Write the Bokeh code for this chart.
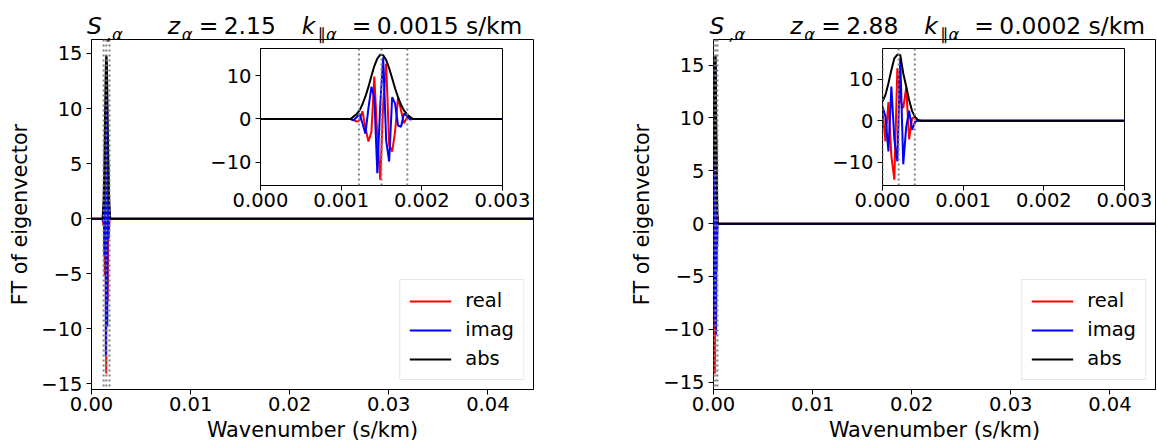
from bokeh.plotting import figure
from bokeh.models import (Span, Legend, LegendItem, Div, FixedTicker,
                          Range1d, CustomJSTickFormatter)
from bokeh.embed import file_html
from bokeh.resources import INLINE

# ---------------- data ----------------
# Left panel: S_,alpha  z=2.15  k_par=0.0015 s/km
k_left = [0.0, 0.001117, 0.001154, 0.001191, 0.001228, 0.001264, 0.001301, 0.001338,
          0.001375, 0.001411, 0.001448, 0.001485, 0.001521, 0.001558, 0.001595,
          0.001632, 0.001668, 0.001705, 0.001742, 0.001778, 0.001815, 0.001852,
          0.001889, 0.0446]
real_left = [0, 0, -0.2, -0.6, -0.3, 1.8, -2.0, -5.2, -3.0, 9.8, -4.0, -14.06, 3.5,
             12.8, -6.0, -7.5, -3.0, 5.0, 2.0, -1.0, 0.3, 0.2, 0, 0]
imag_left = [0, 0, -0.3, 0.4, 1.2, -1.0, -3.4, 2.5, 7.4, 5.0, -12.5, 3.5, 14.2,
             -5.0, -9.8, 5.0, 3.6, -1.5, -1.8, 1.2, 0.8, -0.1, 0, 0]
abs_left = [0, 0, 0.6, 1.1, 2.0, 3.4, 5.2, 7.4, 9.9, 12.2, 13.9, 14.83, 14.7, 13.6,
            11.7, 9.4, 7.1, 5.0, 3.3, 2.0, 1.1, 0.5, 0, 0]
vlines_left = [0.00122, 0.0015, 0.00182]
z_left = "2.15"
kpar_left = "0.0015"

# Right panel: S_,alpha  z=2.88  k_par=0.0002 s/km
k_right = [0.0, 0.0000367, 0.0000734, 0.000110, 0.000147, 0.000184, 0.000220,
           0.000257, 0.000294, 0.000330, 0.000367, 0.000404, 0.000441, 0.000478, 0.0446]
real_right = [2.5, -5.0, 4.5, -8.5, -14.18, 12.6, 5.0, 3.0, 8.0, -4.5, 0.6, 0.8, 0.1, 0, 0]
imag_right = [3.4, 1.0, -7.4, 8.2, -4.5, -9.8, 15.0, -10.5, -1.5, 2.4, -2.2, -0.3, 0.05, 0, 0]
abs_right = [4.6, 6.2, 9.0, 12.2, 15.0, 15.9, 15.8, 11.4, 8.2, 5.0, 2.3, 0.9, 0.1, 0, 0]
vlines_right = [0.0, 0.0002, 0.0004]
z_right = "2.88"
kpar_right = "0.0002"

main_xticks = [0.0, 0.01, 0.02, 0.03, 0.04]
main_yticks = [-15, -10, -5, 0, 5, 10, 15]
inset_xticks = [0.0, 0.001, 0.002, 0.003]
inset_yticks = [-10, 0, 10]

FONT = "DejaVu Sans"
TICK_FS = "19.5px"
LABEL_FS = "20.8px"

yfmt_js = "return tick < 0 ? '\\u2212' + Math.abs(tick) : String(tick);"


def place(left, top, z):
    return {"position": "absolute", "left": "%dpx" % left, "top": "%dpx" % top,
            "z-index": str(z)}


def style_axes(p, xdec):
    for ax in (p.xaxis[0], p.yaxis[0]):
        ax.major_tick_out = 5
        ax.major_tick_in = 0
        ax.minor_tick_out = 0
        ax.minor_tick_in = 0
        ax.axis_line_color = "black"
        ax.major_tick_line_color = "black"
        ax.major_label_text_font = FONT
        ax.major_label_text_font_size = TICK_FS
        ax.major_label_text_color = "black"
    p.xaxis[0].major_label_standoff = 2
    p.yaxis[0].major_label_standoff = 4
    p.xaxis[0].formatter = CustomJSTickFormatter(code="return tick.toFixed(%d);" % xdec)
    p.yaxis[0].formatter = CustomJSTickFormatter(code=yfmt_js)
    p.xgrid.visible = False
    p.ygrid.visible = False
    p.outline_line_color = "black"
    p.outline_line_width = 1


def make_main(k, re, im, ab, vl, y0, y1, left, width, right_border):
    p = figure(width=width, height=445,
               x_range=Range1d(0.0, 0.0446), y_range=Range1d(y0, y1),
               output_backend="svg", toolbar_location=None,
               min_border_left=91, min_border_right=right_border,
               min_border_top=39, min_border_bottom=56,
               background_fill_color="white", border_fill_color="white",
               styles=place(left, 0, 1))
    p.xaxis[0].ticker = FixedTicker(ticks=main_xticks)
    p.yaxis[0].ticker = FixedTicker(ticks=main_yticks)
    style_axes(p, 2)
    for ax in (p.xaxis[0], p.yaxis[0]):
        ax.axis_label_text_font = FONT
        ax.axis_label_text_font_size = LABEL_FS
        ax.axis_label_text_font_style = "normal"
        ax.axis_label_text_color = "black"
    p.yaxis[0].axis_label = "FT of eigenvector"
    p.yaxis[0].axis_label_standoff = 6
    p.xaxis[0].axis_label = "Wavenumber (s/km)"
    p.xaxis[0].axis_label_standoff = 4

    r1 = p.line(k, re, line_color="red", line_width=2)
    r2 = p.line(k, im, line_color="blue", line_width=2)
    r3 = p.line(k, ab, line_color="black", line_width=2)
    for v in vl:
        p.add_layout(Span(location=v, dimension="height", line_color="gray",
                          line_dash="2 3", line_width=2))

    legend = Legend(items=[LegendItem(label="real", renderers=[r1]),
                           LegendItem(label="imag", renderers=[r2]),
                           LegendItem(label="abs", renderers=[r3])],
                    location="bottom_right")
    legend.label_text_font = FONT
    legend.label_text_font_size = TICK_FS
    legend.label_text_color = "black"
    legend.glyph_width = 42
    legend.glyph_height = 22
    legend.label_height = 22
    legend.spacing = 6
    legend.padding = 9
    legend.margin = 9
    legend.label_standoff = 14
    legend.border_line_color = "#d0d0d0"
    legend.border_line_width = 1
    legend.background_fill_alpha = 0.8
    p.add_layout(legend)
    return p


def make_inset(k, re, im, ab, vl, y0, y1, left):
    p = figure(width=325, height=177, x_range=Range1d(0.0, 0.003),
               y_range=Range1d(y0, y1), output_backend="svg", toolbar_location=None,
               min_border_left=50, min_border_right=30, min_border_top=5,
               min_border_bottom=35, background_fill_color="white",
               border_fill_color=None, border_fill_alpha=0.0,
               styles=place(left, 43, 5))
    p.xaxis[0].ticker = FixedTicker(ticks=inset_xticks)
    p.yaxis[0].ticker = FixedTicker(ticks=inset_yticks)
    style_axes(p, 3)
    p.line(k, re, line_color="red", line_width=2)
    p.line(k, im, line_color="blue", line_width=2)
    p.line(k, ab, line_color="black", line_width=2)
    for v in vl:
        p.add_layout(Span(location=v, dimension="height", line_color="gray",
                          line_dash="2 3", line_width=2))
    return p


def title_spans(frame_left, zval, kval):
    base = 30.0
    big, small = 23.4, 16.4
    pieces = [
        (-8.7, 0, "S", True, big),
        (11.0, 6, ",\u03b1", True, small),
        (72, 0, "z", True, big),
        (86, 6, "\u03b1", True, small),
        (103, 0, "=", False, big),
        (128, 0, zval, False, big),
        (206, 0, "k", True, big),
        (222, 6, "\u2225\u03b1", True, small),
        (256, 0, "=", False, big),
        (281, 0, kval + " s/km", False, big),
    ]
    out = []
    for dx, dy, txt, it, fs in pieces:
        top = base + dy - 0.846 * fs
        out.append(
            '<span style="position:absolute; left:%.1fpx; top:%.1fpx; '
            'font-family:\'DejaVu Sans\'; font-size:%.1fpx; line-height:1; '
            'font-style:%s; color:black; white-space:nowrap;">%s</span>'
            % (frame_left + dx, top, fs, "italic" if it else "normal", txt))
    return "".join(out)


p1 = make_main(k_left, real_left, imag_left, abs_left, vlines_left, -15.52, 16.27,
               0, 540, 7)
p2 = make_main(k_right, real_right, imag_right, abs_right, vlines_right, -15.69, 17.42,
               622, 535, 2)
i1 = make_inset(k_left, real_left, imag_left, abs_left, vlines_left, -15.33, 16.25, 207)
i2 = make_inset(k_right, real_right, imag_right, abs_right, vlines_right, -15.59, 17.36, 829)

title = Div(text=title_spans(90.7, z_left, kpar_left) + title_spans(713.3, z_right, kpar_right),
            width=1157, height=40, styles=place(0, 0, 3))

open("out.html", "w").write(file_html([p1, p2, i1, i2, title], INLINE))
